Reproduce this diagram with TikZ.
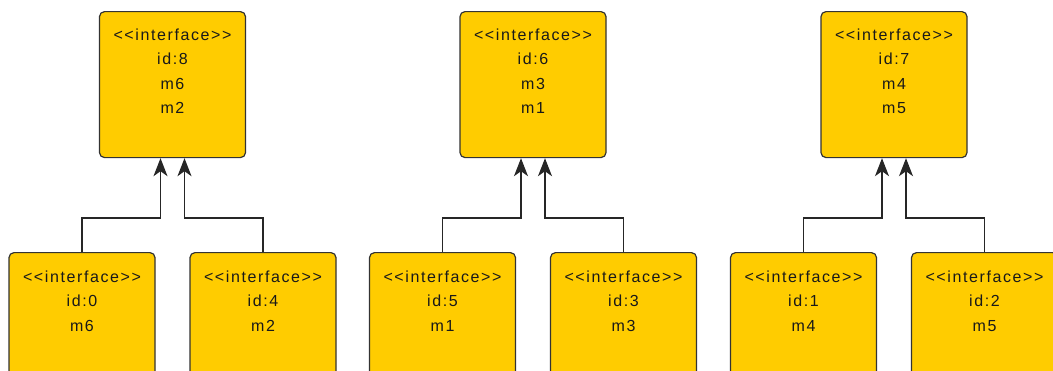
\documentclass[tikz,border=0pt]{standalone}
\usepackage{fontspec}
\newfontfamily\boxfont[LetterSpace=10]{Liberation Sans}
\usetikzlibrary{arrows.meta}
\definecolor{ifill}{HTML}{FFCC00}
\definecolor{iline}{HTML}{333333}
\tikzset{
  ibox/.style={draw=iline, fill=ifill, line width=1.2pt, rounded corners=5pt,
    minimum width=146pt, minimum height=146pt, inner sep=0pt, anchor=north},
  itext/.style={font=\boxfont\fontsize{16}{24.5}\selectfont, text=black!90,
    align=center, anchor=north, inner sep=0pt},
  gen/.style={draw=black!85, line width=1.2pt,
    -{Stealth[length=18pt, width=14pt, inset=5pt]}},
}
\begin{document}
\begin{tikzpicture}[x=1pt, y=-1pt]
\useasboundingbox (0,0) rectangle (1053,370);
\clip (0,0) rectangle (1053,370);
% three inheritance groups: parent on top, two children below
\foreach \g/\px/\pid/\pa/\pb/\la/\lm/\ra/\rm in {
    0/172.5/8/m6/m2/0/m6/4/m2,
    1/533/6/m3/m1/5/m1/3/m3,
    2/894/7/m4/m5/1/m4/2/m5} {
  \node[ibox] (p\g) at (\px,11) {};
  \node[itext] (tp\g) at ([yshift=-17.5pt]p\g.north)
    {<<interface>>\\id:\pid\\\pa\\\pb};
  \node[ibox] (l\g) at (\px-90.5,252) {};
  \node[itext] (tl\g) at ([yshift=-18.5pt]l\g.north)
    {<<interface>>\\id:\la\\\lm};
  \node[ibox] (r\g) at (\px+90.5,252) {};
  \node[itext] (tr\g) at ([yshift=-18.5pt]r\g.north)
    {<<interface>>\\id:\ra\\\rm};
  \draw[gen] (l\g.north) -- ++(0,-34) -| ([xshift=-12pt]p\g.south);
  \draw[gen] (r\g.north) -- ++(0,-34) -| ([xshift=12pt]p\g.south);
}
\end{tikzpicture}
\end{document}
